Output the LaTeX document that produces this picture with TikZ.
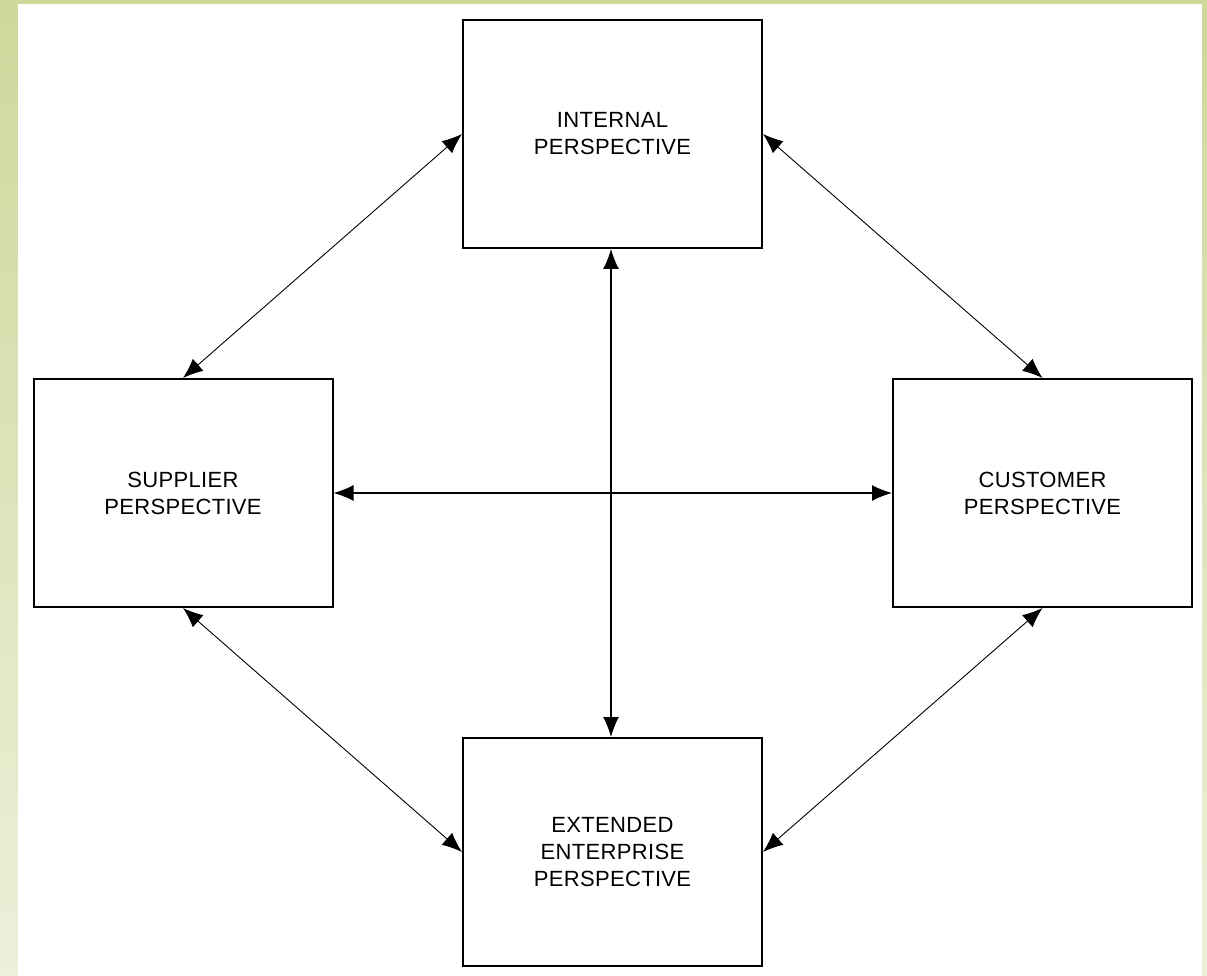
\documentclass[tikz,border=0pt]{standalone}
\usepackage{fontspec}
\setmainfont{Liberation Sans}[LetterSpace=1.5]
\usetikzlibrary{arrows.meta}
\definecolor{bgtop}{RGB}{205,216,155}
\definecolor{bgbot}{RGB}{237,240,218}
\begin{document}
\begin{tikzpicture}[x=1pt,y=-1pt,
  persp/.style={draw=black,line width=2pt,fill=white,minimum width=299pt,minimum height=228pt,
    align=center,inner sep=0pt,font=\fontsize{22pt}{27pt}\selectfont},
  link/.style={line width=1.3pt,{Latex[length=20pt,width=16pt]}-{Latex[length=20pt,width=16pt]}},
  diag/.style={line width=0.9pt,{Latex[length=20pt,width=16pt]}-{Latex[length=20pt,width=16pt]}}]
\useasboundingbox (0,0) rectangle (1207,976);
\shade[top color=bgtop,bottom color=bgbot] (0,0) rectangle (1207,976);
\fill[white] (18,4) rectangle (1202,976);
\node[persp] (int) at (612.5,134) {INTERNAL\\PERSPECTIVE};
\node[persp] (sup) at (183,493) {SUPPLIER\\PERSPECTIVE};
\node[persp] (cus) at (1042.5,493) {CUSTOMER\\PERSPECTIVE};
\node[persp] (ext) at (612.5,852) {EXTENDED\\ENTERPRISE\\PERSPECTIVE};
\draw[link] (int.south -| 611,0) -- (ext.north -| 611,0);
\draw[link] (sup.east) -- (cus.west);
\draw[diag] (int.west) -- (sup.north);
\draw[diag] (int.east) -- (cus.north);
\draw[diag] (sup.south) -- (ext.west);
\draw[diag] (cus.south) -- (ext.east);
\end{tikzpicture}
\end{document}
